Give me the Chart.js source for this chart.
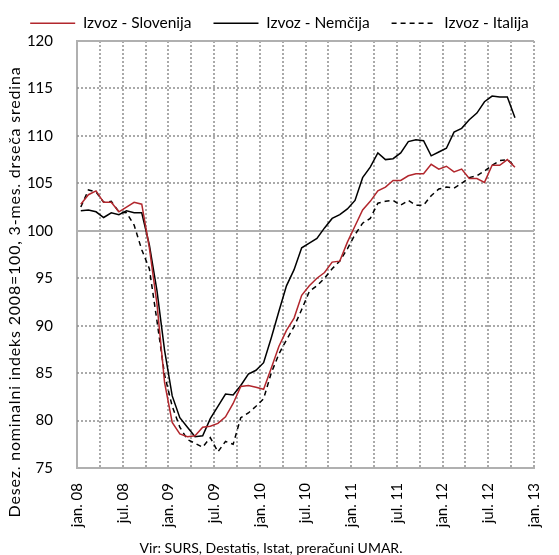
<!DOCTYPE html>
<html>
<head>
<meta charset="utf-8">
<script src="https://cdn.jsdelivr.net/npm/chart.js@4"></script>
<style>
  html, body { margin: 0; padding: 0; background: #fff; }
  #wrap { width: 559px; height: 555px; }
</style>
</head>
<body>
<div id="wrap"><canvas id="chart" width="559" height="555"></canvas></div>
<script>
// tick labels every 6 months (x axis runs jan.08 .. jan.13, in months)
const tickLabels = ["jan. 08", "jul. 08", "jan. 09", "jul. 09", "jan. 10", "jul. 10",
                    "jan. 11", "jul. 11", "jan. 12", "jul. 12", "jan. 13"];

// monthly values, jan.08 .. oct.12
const slovenija = [102.8, 103.8, 104.2, 103.0, 103.0, 102.0, 102.5, 103.0, 102.8, 98.2,
                   92.3, 84.0, 79.8, 78.6, 78.3, 78.4, 79.3, 79.4, 79.7, 80.4,
                   81.8, 83.6, 83.7, 83.5, 83.3, 85.5, 87.8, 89.5, 90.8, 93.2,
                   94.2, 95.0, 95.6, 96.7, 96.8, 98.8, 100.5, 102.2, 103.1, 104.2,
                   104.6, 105.3, 105.3, 105.8, 106.0, 106.0, 107.0, 106.5, 106.8, 106.2,
                   106.5, 105.5, 105.5, 105.1, 106.9, 106.9, 107.5, 106.7];
const nemcija = [102.1, 102.2, 102.0, 101.4, 101.9, 101.7, 102.1, 101.9, 101.9, 98.5,
                 93.7, 87.4, 82.6, 80.3, 79.3, 78.3, 78.4, 80.2, 81.5, 82.8,
                 82.7, 83.7, 84.9, 85.3, 86.1, 88.7, 91.5, 94.2, 95.9, 98.2,
                 98.7, 99.2, 100.3, 101.3, 101.7, 102.3, 103.2, 105.6, 106.7, 108.2,
                 107.5, 107.6, 108.2, 109.4, 109.6, 109.5, 107.9, 108.3, 108.7, 110.4,
                 110.8, 111.7, 112.4, 113.6, 114.2, 114.1, 114.1, 111.9];
const italija = [102.5, 104.3, 104.1, 103.0, 103.1, 102.0, 101.9, 100.6, 98.0, 96.0,
                 90.5, 84.8, 81.5, 79.3, 78.0, 77.6, 77.2, 78.2, 76.7, 77.8,
                 77.5, 80.3, 80.8, 81.5, 82.3, 85.0, 87.0, 88.5, 89.9, 91.7,
                 93.6, 94.2, 95.0, 96.0, 96.8, 98.1, 99.6, 100.8, 101.3, 102.9,
                 103.1, 103.2, 102.7, 103.2, 102.7, 102.7, 103.7, 104.4, 104.6, 104.5,
                 105.0, 105.6, 105.8, 106.3, 106.9, 107.4, 107.5, 106.8];

// each month sits in the middle of its slot on the month axis
const pts = arr => arr.map((v, i) => ({ x: i + 0.5, y: v }));

const FONT = "Lato, 'Liberation Sans', sans-serif";
const GRID = "#8f8f8f";

// dotted grid, drawn from the scales' own ticks
const dottedGrid = {
  id: "dottedGrid",
  beforeDatasetsDraw(chart) {
    const { ctx, chartArea: a, scales: { x, y } } = chart;
    ctx.save();
    ctx.lineWidth = 1.5;
    ctx.strokeStyle = GRID;
    ctx.setLineDash([2, 2]);
    ctx.beginPath();
    x.ticks.forEach(t => {
      if (t.value === x.min) return;
      const px = Math.round(x.getPixelForValue(t.value));
      ctx.moveTo(px, a.top);
      ctx.lineTo(px, a.bottom);
    });
    y.ticks.forEach(t => {
      if (t.value === y.min || t.value === 100 || t.value === y.max) return;
      const py = Math.round(y.getPixelForValue(t.value));
      ctx.moveTo(a.left, py);
      ctx.lineTo(a.right, py);
    });
    ctx.stroke();
    ctx.setLineDash([]);
    ctx.lineWidth = 2;
    ctx.strokeStyle = "#b0b0b0";
    ctx.beginPath();
    ctx.moveTo(a.left, Math.round(y.getPixelForValue(y.max)));
    ctx.lineTo(a.right, Math.round(y.getPixelForValue(y.max)));
    ctx.moveTo(a.left, Math.round(y.getPixelForValue(100)));
    ctx.lineTo(a.right, Math.round(y.getPixelForValue(100)));
    ctx.stroke();
    ctx.restore();
  }
};

const extraText = {
  id: "extraText",
  afterDraw(chart) {
    const ctx = chart.ctx;
    ctx.save();
    ctx.fillStyle = "#000";
    ctx.font = "16px " + FONT;
    ctx.letterSpacing = "0.8px";
    ctx.textAlign = "center";
    ctx.textBaseline = "middle";
    ctx.translate(15, 292);
    ctx.rotate(-Math.PI / 2);
    ctx.fillText("Desez. nominalni indeks 2008=100, 3-mes. drseča sredina", 0, 0);
    ctx.restore();
    ctx.save();
    ctx.fillStyle = "#000";
    ctx.font = "14px " + FONT;
    ctx.textAlign = "center";
    ctx.textBaseline = "middle";
    ctx.fillText("Vir: SURS, Destatis, Istat, preračuni UMAR.", 271, 548);
    ctx.restore();
  }
};

new Chart(document.getElementById("chart"), {
  type: "line",
  data: {
    datasets: [{
      label: "Izvoz - Slovenija",
      data: pts(slovenija),
      borderColor: "#b2272d",
      backgroundColor: "#b2272d",
      borderWidth: 1.5,
      pointRadius: 0,
      tension: 0
    }, {
      label: "Izvoz - Nemčija",
      data: pts(nemcija),
      borderColor: "#000",
      backgroundColor: "#000",
      borderWidth: 1.5,
      pointRadius: 0,
      tension: 0
    }, {
      label: "Izvoz - Italija",
      data: pts(italija),
      borderColor: "#000",
      backgroundColor: "#000",
      borderWidth: 1.5,
      borderDash: [5, 4],
      pointRadius: 0,
      tension: 0
    }]
  },
  options: {
    responsive: false,
    animation: false,
    layout: { padding: { top: -6.5, right: 0, left: 0, bottom: 0 } },
    plugins: {
      legend: {
        position: "top",
        labels: {
          usePointStyle: true,
          pointStyle: "line",
          pointStyleWidth: 45,
          padding: 22,
          color: "#000",
          font: { family: FONT, size: 15.5 },
          generateLabels: chart => Chart.defaults.plugins.legend.labels.generateLabels(chart).map(item => {
            const ds = chart.data.datasets[item.datasetIndex];
            item.lineDash = ds.borderDash || [];
            item.strokeStyle = ds.borderColor;
            item.lineWidth = ds.borderWidth;
            item.pointStyle = "line";
            return item;
          })
        }
      },
      tooltip: { enabled: false }
    },
    scales: {
      x: {
        type: "linear",
        min: 0,
        max: 60,
        afterFit: s => { s.height = 87; },
        ticks: {
          stepSize: 3,
          autoSkip: false,
          minRotation: 90,
          maxRotation: 90,
          padding: 7,
          color: "#000",
          font: { family: FONT, size: 15 },
          callback: v => (v % 6 === 0 ? tickLabels[v / 6] : "")
        },
        grid: { display: false },
        border: { display: true, color: "#b0b0b0", width: 2 }
      },
      y: {
        min: 75,
        max: 120,
        afterFit: s => { s.width = 77; },
        ticks: {
          stepSize: 5,
          padding: 16,
          color: "#000",
          font: { family: FONT, size: 15 }
        },
        grid: { display: false },
        border: { display: true, color: "#b0b0b0", width: 2 }
      }
    }
  },
  plugins: [dottedGrid, extraText]
});
</script>
</body>
</html>
